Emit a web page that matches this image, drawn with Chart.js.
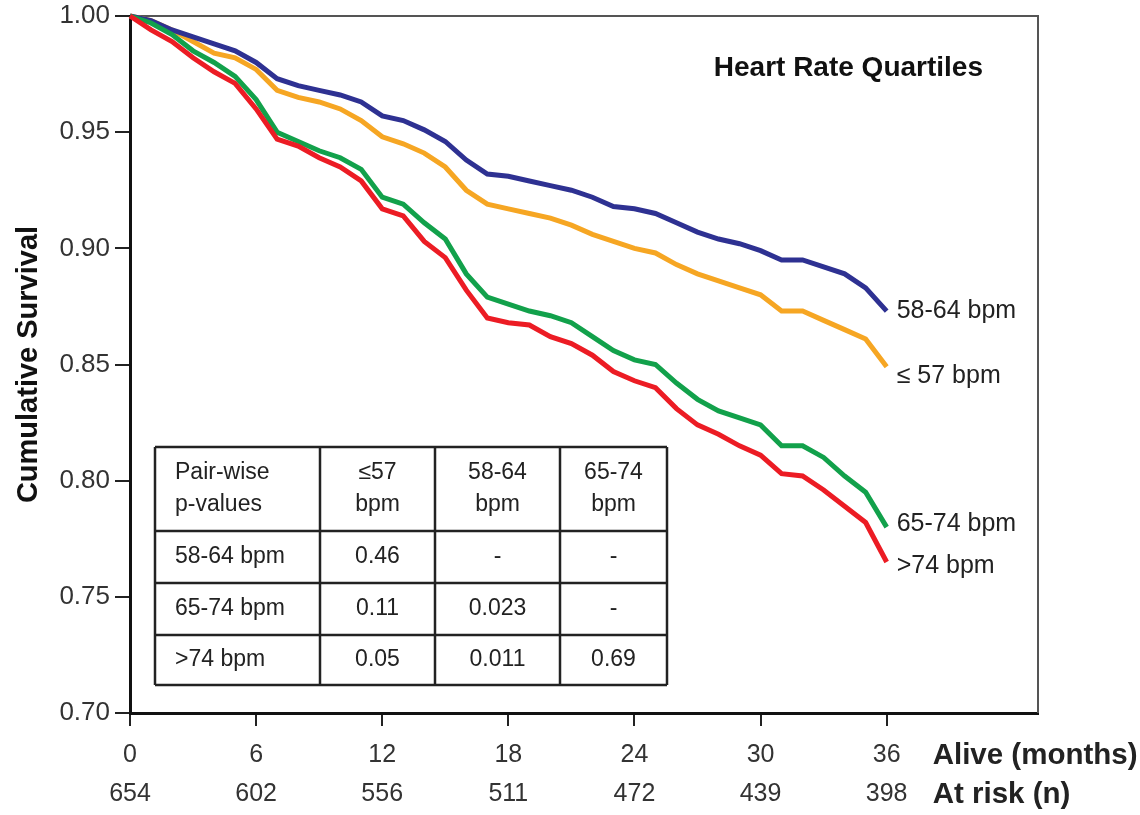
<!DOCTYPE html>
<html>
<head>
<meta charset="utf-8">
<script src="https://cdn.jsdelivr.net/npm/chart.js@4"></script>
<style>
  html, body { margin: 0; padding: 0; background: #fff; }
  #wrap { width: 1140px; height: 815px; position: relative; }
</style>
</head>
<body>
<div id="wrap"><canvas id="km"></canvas></div>
<script>
// months of follow-up (x) and survival
const months = [0, 1, 2, 3, 4, 5, 6, 7, 8, 9, 10, 11, 12, 13, 14, 15, 16, 17, 18,
  19, 20, 21, 22, 23, 24, 25, 26, 27, 28, 29, 30, 31, 32, 33, 34, 35, 36];

const hr58to64 = [1.000, 0.998, 0.994, 0.991, 0.988, 0.985, 0.980, 0.973, 0.970, 0.968, 0.966, 0.963,
  0.957, 0.955, 0.951, 0.946, 0.938, 0.932, 0.931, 0.929, 0.927, 0.925, 0.922, 0.918, 0.917,
  0.915, 0.911, 0.907, 0.904, 0.902, 0.899, 0.895, 0.895, 0.892, 0.889, 0.883, 0.873];
const hrUpTo57 = [1.000, 0.998, 0.994, 0.989, 0.984, 0.982, 0.977, 0.968, 0.965, 0.963, 0.960, 0.955,
  0.948, 0.945, 0.941, 0.935, 0.925, 0.919, 0.917, 0.915, 0.913, 0.910, 0.906, 0.903, 0.900,
  0.898, 0.893, 0.889, 0.886, 0.883, 0.880, 0.873, 0.873, 0.869, 0.865, 0.861, 0.849];
const hr65to74 = [1.000, 0.997, 0.992, 0.985, 0.980, 0.974, 0.964, 0.950, 0.946, 0.942, 0.939, 0.934,
  0.922, 0.919, 0.911, 0.904, 0.889, 0.879, 0.876, 0.873, 0.871, 0.868, 0.862, 0.856, 0.852,
  0.850, 0.842, 0.835, 0.830, 0.827, 0.824, 0.815, 0.815, 0.810, 0.802, 0.795, 0.780];
const hrOver74 = [1.000, 0.994, 0.989, 0.982, 0.976, 0.971, 0.960, 0.947, 0.944, 0.939, 0.935, 0.929,
  0.917, 0.914, 0.903, 0.896, 0.882, 0.870, 0.868, 0.867, 0.862, 0.859, 0.854, 0.847, 0.843,
  0.840, 0.831, 0.824, 0.820, 0.815, 0.811, 0.803, 0.802, 0.796, 0.789, 0.782, 0.765];

const tickMonths = [0, 6, 12, 18, 24, 30, 36];
const atRisk = [654, 602, 556, 511, 472, 439, 398];
const yTicks = [0.70, 0.75, 0.80, 0.85, 0.90, 0.95, 1.00];

// pair-wise p-value table
const tableHead = [['Pair-wise', 'p-values'], ['≤57', 'bpm'], ['58-64', 'bpm'], ['65-74', 'bpm']];
const tableRows = ['58-64 bpm', '65-74 bpm', '>74 bpm'];
const pValues = [
  ['0.46', '-', '-'],
  ['0.11', '0.023', '-'],
  ['0.05', '0.011', '0.69']
];

const FONT = '"Liberation Sans", Arial, sans-serif';
const toXY = arr => arr.map((v, i) => ({ x: months[i], y: v }));

// series: drawn with first dataset on top
const series = [
  { label: '>74 bpm', data: hrOver74, color: '#ec1c24', dy: 4 },
  { label: '65-74 bpm', data: hr65to74, color: '#12a14b', dy: -3 },
  { label: '58-64 bpm', data: hr58to64, color: '#2e3192', dy: 0 },
  { label: '≤ 57 bpm', data: hrUpTo57, color: '#f6a623', dy: 9 }
];

const overlay = {
  id: 'overlay',
  beforeDatasetsDraw(chart) {
    const { ctx, chartArea: a } = chart;
    ctx.save();
    ctx.strokeStyle = '#555';
    ctx.lineWidth = 2;
    ctx.beginPath();
    ctx.moveTo(a.left, a.top);
    ctx.lineTo(a.right, a.top);
    ctx.lineTo(a.right, a.bottom);
    ctx.stroke();
    ctx.restore();
  },
  afterDraw(chart) {
    const { ctx, chartArea: a, scales: { x, y } } = chart;
    ctx.save();

    // title
    ctx.fillStyle = '#111';
    ctx.font = 'bold 28px ' + FONT;
    ctx.textAlign = 'right';
    ctx.textBaseline = 'middle';
    ctx.fillText('Heart Rate Quartiles', a.right - 55, a.top + 52);

    // end-of-curve labels
    ctx.font = '25px ' + FONT;
    ctx.fillStyle = '#222';
    ctx.textAlign = 'left';
    series.forEach(s => {
      const last = s.data.length - 1;
      ctx.fillText(s.label, x.getPixelForValue(months[last]) + 10, y.getPixelForValue(s.data[last]) + s.dy);
    });

    // axis row captions
    ctx.font = 'bold 29.5px ' + FONT;
    ctx.fillText('Alive (months)', x.getPixelForValue(36) + 46, a.bottom + 43);
    ctx.fillText('At risk (n)', x.getPixelForValue(36) + 46, a.bottom + 82);

    // p-value table
    const colX = [a.left + 25, a.left + 190, a.left + 305, a.left + 430, a.left + 537];
    const rowY = [a.top + 431, a.top + 515, a.top + 567, a.top + 619, a.top + 669];
    ctx.fillStyle = '#fff';
    ctx.fillRect(colX[0], rowY[0], colX[4] - colX[0], rowY[4] - rowY[0]);
    ctx.strokeStyle = '#222';
    ctx.lineWidth = 2.5;
    colX.forEach(cx => { ctx.beginPath(); ctx.moveTo(cx, rowY[0]); ctx.lineTo(cx, rowY[4]); ctx.stroke(); });
    rowY.forEach(ry => { ctx.beginPath(); ctx.moveTo(colX[0], ry); ctx.lineTo(colX[4], ry); ctx.stroke(); });

    ctx.fillStyle = '#222';
    ctx.font = '23px ' + FONT;
    tableHead.forEach((lines, c) => {
      const left = c === 0;
      ctx.textAlign = left ? 'left' : 'center';
      const tx = left ? colX[0] + 20 : (colX[c] + colX[c + 1]) / 2;
      const mid = (rowY[0] + rowY[1]) / 2;
      ctx.fillText(lines[0], tx, mid - 16);
      ctx.fillText(lines[1], tx, mid + 16);
    });
    tableRows.forEach((name, r) => {
      const mid = (rowY[r + 1] + rowY[r + 2]) / 2;
      ctx.textAlign = 'left';
      ctx.fillText(name, colX[0] + 20, mid);
      ctx.textAlign = 'center';
      pValues[r].forEach((p, c) => ctx.fillText(p, (colX[c + 1] + colX[c + 2]) / 2, mid));
    });

    ctx.restore();
  }
};

new Chart(document.getElementById('km'), {
  type: 'line',
  data: {
    datasets: series.map(s => ({
      label: s.label,
      data: toXY(s.data),
      borderColor: s.color,
      backgroundColor: s.color,
      borderWidth: 5,
      pointRadius: 0,
      tension: 0,
      clip: false
    }))
  },
  options: {
    responsive: true,
    maintainAspectRatio: false,
    animation: false,
    layout: { padding: { top: 16, right: 102, left: 0, bottom: 0 } },
    plugins: { legend: { display: false }, tooltip: { enabled: false } },
    scales: {
      x: {
        type: 'linear',
        min: 0,
        max: 43.2,
        afterBuildTicks: scale => { scale.ticks = tickMonths.map(v => ({ value: v })); },
        afterFit: scale => { scale.height = 102; },
        grid: { drawOnChartArea: false, drawTicks: true, tickLength: 13, color: '#222', lineWidth: 2 },
        border: { display: true, color: '#111', width: 3 },
        ticks: {
          autoSkip: false,
          maxRotation: 0,
          padding: 10,
          color: '#333',
          font: { family: FONT, size: 25, lineHeight: 1.55 },
          callback: (v) => [String(v), String(atRisk[tickMonths.indexOf(v)])]
        }
      },
      y: {
        min: 0.70,
        max: 1.00,
        afterBuildTicks: scale => { scale.ticks = yTicks.map(v => ({ value: v })); },
        afterFit: scale => {
          scale.width = 130;
          // keep the top label from pushing the plot area down
          scale.paddingTop = 0;
          scale.paddingBottom = 0;
        },
        grid: { drawOnChartArea: false, drawTicks: true, tickLength: 15, color: '#222', lineWidth: 2 },
        border: { display: true, color: '#111', width: 3 },
        title: {
          display: true,
          text: 'Cumulative Survival',
          color: '#111',
          font: { family: FONT, size: 29, weight: 'bold' },
          padding: { top: 12, bottom: 0 }
        },
        ticks: {
          padding: 5,
          color: '#333',
          font: { family: FONT, size: 26 },
          callback: v => Number(v).toFixed(2)
        }
      }
    }
  },
  plugins: [overlay]
});
</script>
</body>
</html>
